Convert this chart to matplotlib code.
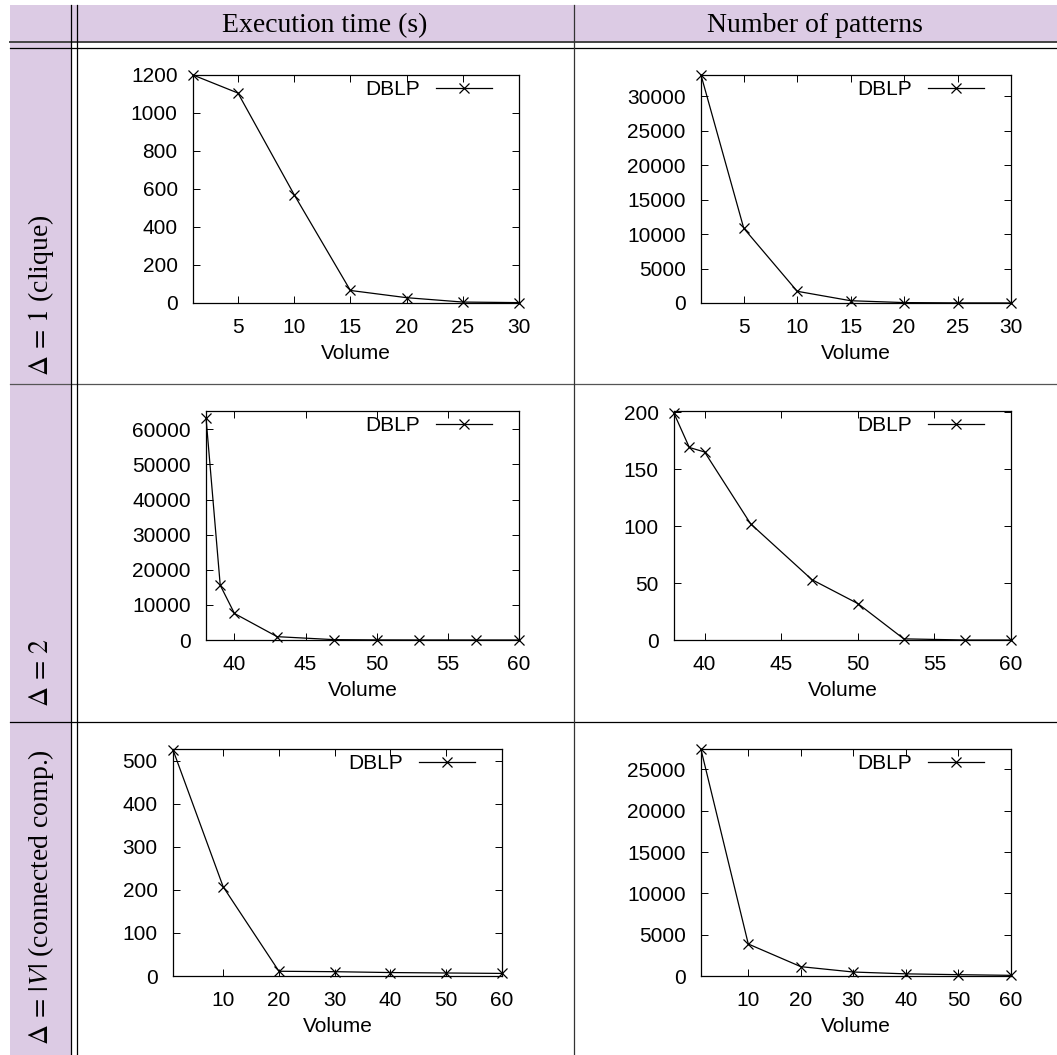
import matplotlib
matplotlib.use('Agg')
import matplotlib.pyplot as plt
from matplotlib.lines import Line2D
from matplotlib.patches import Rectangle

plt.rcParams['font.family'] = ['Liberation Sans', 'DejaVu Sans']
plt.rcParams['mathtext.fontset'] = 'stix'

W = 1057
H = 1055

# header and row labels
col_titles = ['Execution time (s)', 'Number of patterns']
row_titles = [r'$\Delta\,=\,1$ (clique)', r'$\Delta\,=\,2$', r'$\Delta\,=\,|V|$ (connected comp.)']

# data
x_clique = [1, 5, 10, 15, 20, 25, 30]
time_clique = [1200, 1105, 570, 66, 28, 5, 2]
pat_clique = [33100, 10850, 1700, 330, 60, 15, 5]

x_d2 = [38, 39, 40, 43, 47, 50, 53, 57, 60]
time_d2 = [63300, 15600, 7550, 950, 100, 30, 10, 5, 2]
pat_d2 = [199, 169, 165, 102, 53, 32, 1, 0, 0]

x_cc = [1, 10, 20, 30, 40, 50, 60]
time_cc = [525, 207, 11, 10, 8, 7, 6]
pat_cc = [27400, 3870, 1130, 480, 260, 160, 80]

xticks_clique = [5, 10, 15, 20, 25, 30]
xticks_d2 = [40, 45, 50, 55, 60]
xticks_cc = [10, 20, 30, 40, 50, 60]

def fx(x):
    return x / W

def fy(y):
    return 1 - y / H

fig = plt.figure(figsize=(W / 100, H / 100), dpi=100)

lav = '#dccbe4'
# shaded header row and first column
fig.add_artist(Rectangle((fx(10), fy(42)), fx(W - 10), 37 / H, color=lav, lw=0, transform=fig.transFigure, zorder=0))
fig.add_artist(Rectangle((fx(10), fy(H)), fx(61), (H - 5) / H, color=lav, lw=0, transform=fig.transFigure, zorder=0))

def hline(y, c='black', lw=0.9):
    fig.add_artist(Line2D([fx(10), 1], [fy(y), fy(y)], color=c, lw=lw, transform=fig.transFigure))

def vline(x, c='black', lw=0.9):
    fig.add_artist(Line2D([fx(x), fx(x)], [fy(5), 0], color=c, lw=lw, transform=fig.transFigure))

hline(42, '#444444', 1.4)
hline(48)
hline(384, '#555555')
hline(722)
vline(71)
vline(77)
vline(574, '#333333')

fig.text(fx(325), fy(32), col_titles[0], family='Liberation Serif', fontsize=20, ha='center', va='baseline')
fig.text(fx(815), fy(32), col_titles[1], family='Liberation Serif', fontsize=20, ha='center', va='baseline')

label_bottoms = [376, 707, 1045]
for t, yb in zip(row_titles, label_bottoms):
    fig.text(fx(41), fy(yb), t, family='Liberation Serif', fontsize=20, rotation=90, ha='center', va='bottom')

# (left, right, top, bottom) in pixels
boxes = [
    (193, 519, 75, 303), (701, 1011, 75, 303),
    (206, 519, 411, 640), (674, 1011, 411, 640),
    (173, 502, 749, 976), (701, 1011, 749, 976),
]
xs = [x_clique, x_clique, x_d2, x_d2, x_cc, x_cc]
ys = [time_clique, pat_clique, time_d2, pat_d2, time_cc, pat_cc]
xtks = [xticks_clique, xticks_clique, xticks_d2, xticks_d2, xticks_cc, xticks_cc]
ytks = [range(0, 1201, 200), range(0, 30001, 5000), range(0, 60001, 10000),
        range(0, 201, 50), range(0, 501, 100), range(0, 25001, 5000)]
ytops = [1200, 33100, 65200, 201, 527, 27460]

for i in range(6):
    l, r, t, b = boxes[i]
    ax = fig.add_axes([fx(l), fy(b), (r - l) / W, (b - t) / H])
    ax.plot(xs[i], ys[i], color='black', lw=0.9, marker='x', ms=6.5, mew=0.9, clip_on=False, label='DBLP')
    ax.set_xlim(xs[i][0], xs[i][-1])
    ax.set_ylim(0, ytops[i])
    ax.set_xticks(xtks[i])
    ax.set_yticks(list(ytks[i]))
    ax.tick_params(direction='in', top=True, right=True, length=5, width=0.7, labelsize=15)
    ax.tick_params(axis='y', pad=11)
    ax.tick_params(axis='x', pad=11)
    for s in ax.spines.values():
        s.set_linewidth(0.9)
    ax.set_xlabel('Volume', fontsize=15, labelpad=5)
    wpx = r - l
    hpx = b - t
    ax.legend(loc='upper right', bbox_to_anchor=(1 - 27 / wpx, 1 - 5 / hpx), frameon=False,
              markerfirst=False, fontsize=15, borderpad=0, borderaxespad=0,
              handlelength=2.7, handletextpad=0.75, numpoints=1)

fig.savefig('out.png', dpi=100)
